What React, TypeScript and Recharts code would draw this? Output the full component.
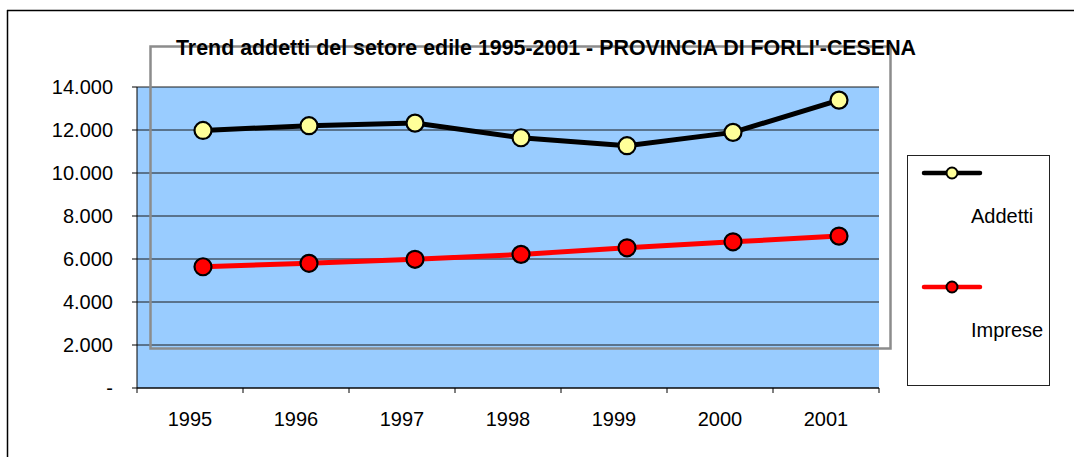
import React from "react";
import { ComposedChart, Line, XAxis, YAxis, CartesianGrid } from "recharts";

const years = ["1995", "1996", "1997", "1998", "1999", "2000", "2001"];
const addetti = [11980, 12200, 12320, 11640, 11270, 11890, 13390];
const imprese = [5640, 5800, 5985, 6215, 6520, 6800, 7065];
const yTicks = [0, 2000, 4000, 6000, 8000, 10000, 12000, 14000];
const title = "Trend addetti del setore edile 1995-2001 - PROVINCIA DI FORLI'-CESENA";
const seriesNames = ["Addetti", "Imprese"];

const FONT = "'Liberation Sans', Arial, sans-serif";
const W = 1074;
const H = 457;

const data = years.map((y, i) => ({
  year: y,
  addetti: addetti[i],
  imprese: imprese[i],
}));

const fmt = (v: number) =>
  v === 0 ? "-" : `${Math.floor(v / 1000)}.${String(v % 1000).padStart(3, "0")}`;

const series = [
  { key: "addetti", name: seriesNames[0], stroke: "#000000", fill: "#FFFF99" },
  { key: "imprese", name: seriesNames[1], stroke: "#FF0000", fill: "#FF0000" },
];

function CatTick(props: any) {
  const { x, y, payload, index, visibleTicksCount } = props;
  const off = payload && payload.offset ? payload.offset : 0;
  const last = index === (visibleTicksCount ?? 7) - 1;
  return (
    <g>
      <line x1={x - off} y1={y} x2={x - off} y2={y + 5} stroke="#000" strokeWidth={1} />
      {last && <line x1={x + off} y1={y} x2={x + off} y2={y + 5} stroke="#000" strokeWidth={1} />}
      <text x={x} y={y + 38} textAnchor="middle" fontSize={20} fontFamily={FONT} fill="#000">
        {payload.value}
      </text>
    </g>
  );
}

export default function App() {
  return (
    <div
      style={{
        position: "absolute",
        left: 0,
        top: 0,
        width: W,
        height: H,
        overflow: "hidden",
        background: "#fff",
        fontFamily: FONT,
      }}
    >
      <div style={{ position: "absolute", left: 0, top: 0 }}>
        <ComposedChart width={W} height={H} data={data} margin={{ top: 87, right: 195, bottom: 0, left: 77 }}>
          <CartesianGrid
            vertical={false}
            horizontal={true}
            fill="#99CCFF"
            fillOpacity={1}
            stroke="#1a1a1a"
            xAxisId="cat"
          />
          <XAxis
            xAxisId="cat"
            dataKey="year"
            scale="band"
            height={69}
            tickSize={0}
            tickMargin={0}
            axisLine={{ stroke: "#000" }}
            tickLine={false}
            tick={<CatTick />}
            interval={0}
          />
          <XAxis
            xAxisId="shift"
            dataKey="year"
            scale="band"
            hide
            padding={{ left: 13, right: -13 }}
          />
          <YAxis
            width={60}
            domain={[0, 14000]}
            ticks={yTicks}
            tickFormatter={fmt}
            tickSize={5}
            tickMargin={19}
            interval={0}
            axisLine={{ stroke: "#000" }}
            tickLine={{ stroke: "#000" }}
            tick={{ fontSize: 20, fill: "#000", fontFamily: FONT }}
          />
          {series.map((s) => (
            <Line
              key={s.key}
              xAxisId="shift"
              dataKey={s.key}
              name={s.name}
              stroke={s.stroke}
              strokeWidth={5}
              isAnimationActive={false}
              dot={{ r: 8.5, fill: s.fill, stroke: "#000", strokeWidth: 2.2, fillOpacity: 1 }}
              activeDot={false}
            />
          ))}
        </ComposedChart>
      </div>

      <svg
        width={W}
        height={H}
        style={{ position: "absolute", left: 0, top: 0, pointerEvents: "none" }}
      >
        <line x1={7.5} y1={10} x2={7.5} y2={H} stroke="#000" strokeWidth={1.5} />
        <line x1={7} y1={10.5} x2={W} y2={10.5} stroke="#000" strokeWidth={1.5} />
        <rect
          x={150.5}
          y={46.5}
          width={740}
          height={302}
          fill="none"
          stroke="#8C8C8C"
          strokeWidth={2.5}
        />
        <text
          x={546}
          y={55}
          textAnchor="middle"
          fontFamily={FONT}
          fontWeight="bold"
          fontSize={21.4}
          fill="#000"
        >
          {title}
        </text>
      </svg>

      <div
        style={{
          position: "absolute",
          left: 907,
          top: 155,
          width: 141,
          height: 229,
          border: "1px solid #222",
          boxSizing: "content-box",
          background: "#fff",
        }}
      >
        {series.map((s, i) => (
          <div key={s.key} style={{ position: "absolute", left: 0, top: i * 114, width: 141, height: 114 }}>
            <svg width={70} height={30} style={{ position: "absolute", left: 12, top: 2 }}>
              <line x1={4} y1={15} x2={60} y2={15} stroke={s.stroke} strokeWidth={4.5} strokeLinecap="round" />
              <circle cx={32} cy={15} r={5.5} fill={s.fill} stroke="#000" strokeWidth={2} />
            </svg>
            <div
              style={{
                position: "absolute",
                left: 63,
                top: 47,
                fontSize: 20,
                lineHeight: "26px",
                color: "#000",
                whiteSpace: "nowrap",
              }}
            >
              {s.name}
            </div>
          </div>
        ))}
      </div>
    </div>
  );
}
